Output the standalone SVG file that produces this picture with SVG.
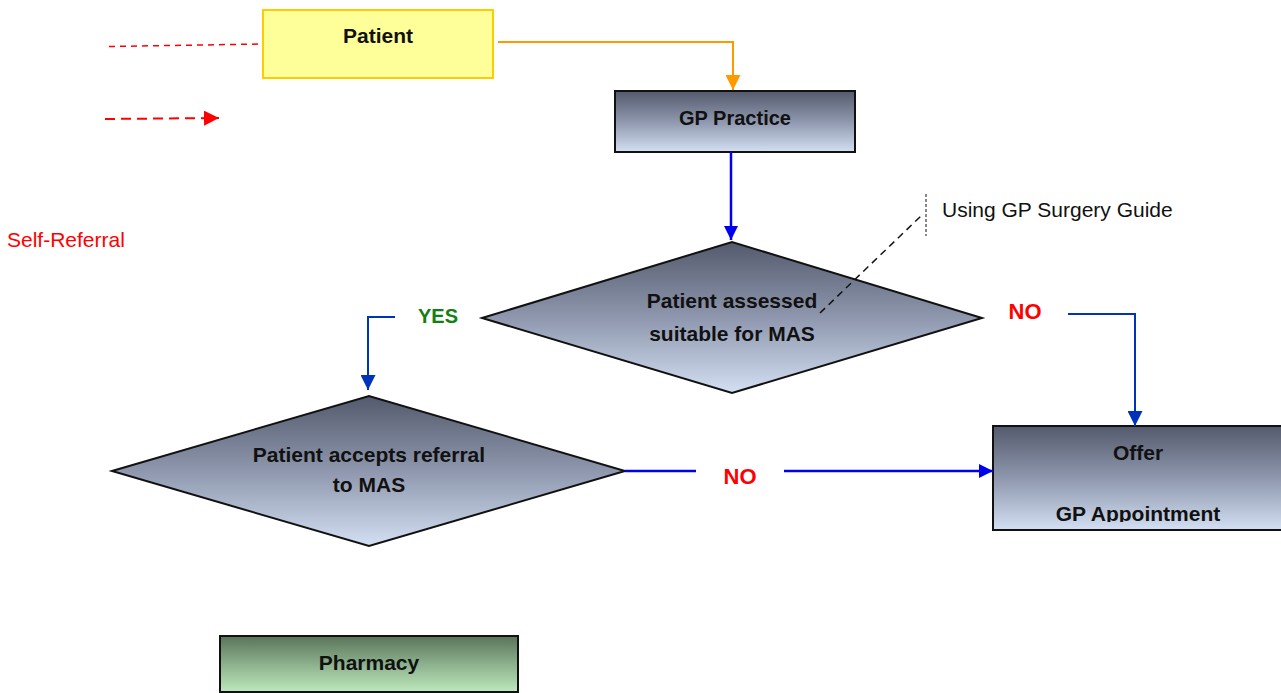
<svg xmlns="http://www.w3.org/2000/svg" width="1281" height="693" viewBox="0 0 1281 693">
<defs>
<linearGradient id="gBlue" x1="0" y1="0" x2="0" y2="1">
<stop offset="0" stop-color="#545a6d"/>
<stop offset="0.5" stop-color="#8e97ad"/>
<stop offset="1" stop-color="#d3dff3"/>
</linearGradient>
<linearGradient id="gGreen" x1="0" y1="0" x2="0" y2="1">
<stop offset="0" stop-color="#5a735a"/>
<stop offset="0.5" stop-color="#8cb08c"/>
<stop offset="1" stop-color="#bde8bd"/>
</linearGradient>
<marker id="aBlue" viewBox="0 0 10 10" refX="10" refY="5" markerWidth="14" markerHeight="14" markerUnits="userSpaceOnUse" orient="auto"><path d="M0,0 L10,5 L0,10 z" fill="#0000ee"/></marker>
<marker id="aDBlue" viewBox="0 0 10 10" refX="10" refY="5" markerWidth="15" markerHeight="15" markerUnits="userSpaceOnUse" orient="auto"><path d="M0,0 L10,5 L0,10 z" fill="#0033bb"/></marker>
<marker id="aOrange" viewBox="0 0 10 10" refX="10" refY="5" markerWidth="15" markerHeight="15" markerUnits="userSpaceOnUse" orient="auto"><path d="M0,0 L10,5 L0,10 z" fill="#ff9900"/></marker>
<marker id="aRed" viewBox="0 0 10 10" refX="10" refY="5" markerWidth="15" markerHeight="15" markerUnits="userSpaceOnUse" orient="auto"><path d="M0,0 L10,5 L0,10 z" fill="#ff0000"/></marker>
<clipPath id="offerClip"><rect x="993" y="426" width="288" height="96"/></clipPath>
<style>
.lbl{font-family:"Liberation Sans",Arial,sans-serif;font-weight:bold;font-size:21px;fill:#111;text-anchor:middle}
.shape{stroke:#111;stroke-width:2}
.blue{fill:none;stroke:#0000ee;stroke-width:2.5}
.dblue{fill:none;stroke:#0033bb;stroke-width:2}
.no{font-family:"Liberation Sans",Arial,sans-serif;font-weight:bold;font-size:22px;fill:#ff0000;text-anchor:middle}
.yes{font-family:"Liberation Sans",Arial,sans-serif;font-weight:bold;font-size:20px;fill:#128012;text-anchor:middle}
.note{font-family:"Liberation Sans",Arial,sans-serif;font-size:21px}
</style>
</defs>
<rect width="1281" height="693" fill="#ffffff"/>

<g id="patient">
<rect x="263" y="10" width="230" height="68" fill="#ffff99" stroke="#ffcc00" stroke-width="2"/>
<text x="378" y="43" class="lbl">Patient</text>
</g>

<g id="gp-practice">
<rect x="615" y="91" width="240" height="61" fill="url(#gBlue)" class="shape"/>
<text x="735" y="125" class="lbl" style="font-size:20px">GP Practice</text>
</g>

<g id="assessed">
<polygon points="482,318 732,242 982,318 732,393" fill="url(#gBlue)" class="shape"/>
<text x="732" y="308" class="lbl">Patient assessed</text>
<text x="732" y="341" class="lbl">suitable for MAS</text>
</g>

<g id="accepts">
<polygon points="112,471 369,396 625,471 369,546" fill="url(#gBlue)" class="shape"/>
<text x="369" y="462" class="lbl">Patient accepts referral</text>
<text x="369" y="492" class="lbl">to MAS</text>
</g>

<g id="offer">
<rect x="993" y="426" width="292" height="104" fill="url(#gBlue)" class="shape"/>
<text x="1138" y="460" class="lbl">Offer</text>
<text x="1138" y="521" class="lbl" clip-path="url(#offerClip)">GP Appointment</text>
</g>

<g id="pharmacy">
<rect x="220" y="636" width="298" height="56" fill="url(#gGreen)" class="shape"/>
<text x="369" y="670" class="lbl">Pharmacy</text>
</g>

<g id="connectors">
<path d="M498,42 H733 V90" fill="none" stroke="#ff9900" stroke-width="2" marker-end="url(#aOrange)"/>
<path d="M731,152 V240" class="blue" marker-end="url(#aBlue)"/>
<path d="M395,317 H368 V390" class="dblue" marker-end="url(#aDBlue)"/>
<path d="M1068,314 H1135 V426" class="dblue" marker-end="url(#aDBlue)"/>
<path d="M625,471 H696" class="blue"/>
<path d="M784,471 H993" class="blue" marker-end="url(#aBlue)"/>
<path d="M109,46.5 L263,44" fill="none" stroke="#ff0000" stroke-width="1.5" stroke-dasharray="6,5"/>
<path d="M105,119 L219,118" fill="none" stroke="#ff0000" stroke-width="2" stroke-dasharray="10,6" marker-end="url(#aRed)"/>
<path d="M820,313 L922,215" fill="none" stroke="#111" stroke-width="1.5" stroke-dasharray="7,5"/>
<path d="M926,194 V236" fill="none" stroke="#111" stroke-width="1" stroke-dasharray="3,2"/>
</g>

<g id="labels">
<text x="438" y="323" class="yes">YES</text>
<text x="1025" y="319" class="no">NO</text>
<text x="740" y="484" class="no">NO</text>
<text x="7" y="247" class="note" fill="#ff0000">Self-Referral</text>
<text x="942" y="217" class="note" fill="#111">Using GP Surgery Guide</text>
</g>
</svg>
